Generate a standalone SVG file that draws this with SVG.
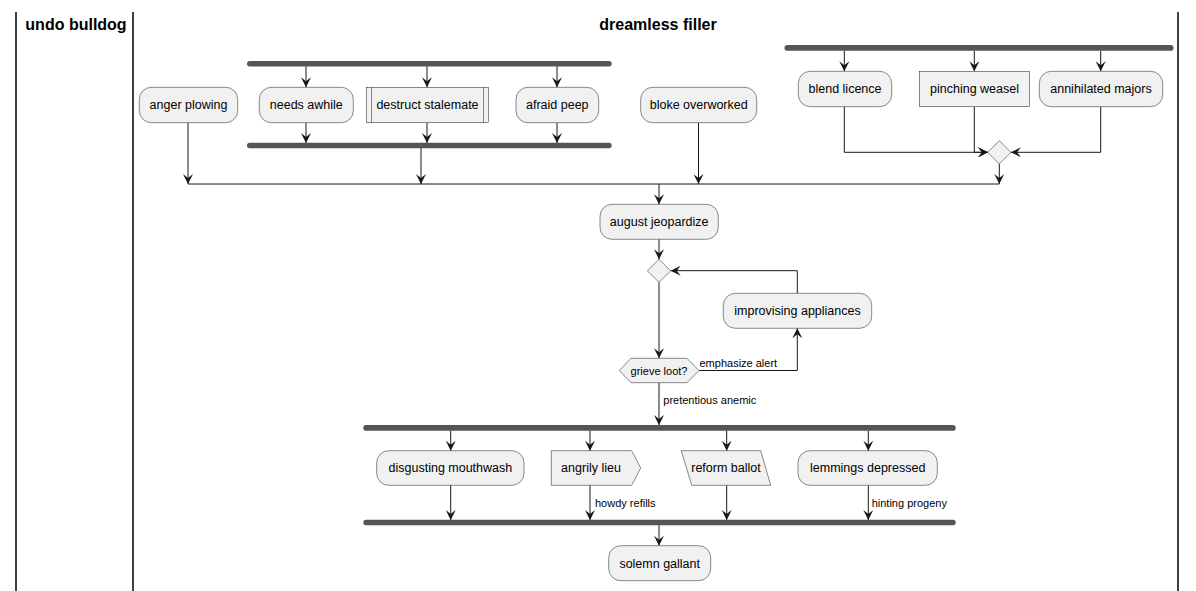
<svg xmlns="http://www.w3.org/2000/svg" width="1196" height="591" viewBox="0 0 1196 591">
<defs>
<style>
.box{fill:#F1F1F1;stroke:#181818;stroke-width:0.5}
.bar{fill:#555555}
.t{font-family:"Liberation Sans",Arial,sans-serif;font-size:12.5px;fill:#000;text-anchor:middle}
.l{font-family:"Liberation Sans",Arial,sans-serif;font-size:11px;fill:#000}
.h{font-family:"Liberation Sans",Arial,sans-serif;font-size:16px;font-weight:bold;fill:#000;text-anchor:middle}
.c{fill:none;stroke:#181818;stroke-width:1}
.a{marker-end:url(#ar)}
.lane{stroke:#000;stroke-width:1.5}
</style>
<marker id="ar" markerUnits="userSpaceOnUse" markerWidth="11" markerHeight="10" refX="10" refY="5" orient="auto" viewBox="0 0 11 10">
<path d="M0,0 L10,5 L0,10 L4,5 Z" fill="#181818"/>
</marker>
</defs>
<g id="lanes">
<line class="lane" x1="16" y1="12" x2="16" y2="591"/>
<line class="lane" x1="133" y1="12" x2="133" y2="591"/>
<line class="lane" x1="1178" y1="12" x2="1178" y2="591"/>
<text class="h" x="76" y="30">undo bulldog</text>
<text class="h" x="658" y="30">dreamless filler</text>
</g>
<g id="connectors">
<path class="c a" d="M306,66 V87.3"/>
<path class="c a" d="M427,66 V87.3"/>
<path class="c a" d="M557,66 V87.3"/>
<path class="c a" d="M306,122.7 V143"/>
<path class="c a" d="M427,122.7 V143"/>
<path class="c a" d="M557,122.7 V143"/>
<path class="c a" d="M844.3,51 V71.3"/>
<path class="c a" d="M974.3,51 V71.3"/>
<path class="c a" d="M1100.7,51 V71.3"/>
<path class="c a" d="M844.3,106.7 V152.3 H988"/>
<path class="c a" d="M974.3,106.7 V152.3 H988"/>
<path class="c a" d="M1100.7,106.7 V152.3 H1011"/>
<path class="c" d="M188,184 H999.3"/>
<path class="c a" d="M999.3,164 V184"/>
<path class="c a" d="M188,122.7 V184"/>
<path class="c a" d="M421,148 V184"/>
<path class="c a" d="M698.5,122.7 V184"/>
<path class="c a" d="M659,184 V204.3"/>
<path class="c a" d="M659,239.3 V259.3"/>
<path class="c a" d="M659,282.3 V358.3"/>
<path class="c a" d="M699,370.5 H797.3 V328.3"/>
<path class="c a" d="M797.3,293.3 V270.7 H670.7"/>
<path class="c a" d="M659,382.7 V425"/>
<path class="c a" d="M450.7,430.7 V450.7"/>
<path class="c a" d="M590,430.7 V450.7"/>
<path class="c a" d="M726.7,430.7 V450.7"/>
<path class="c a" d="M868.3,430.7 V450.7"/>
<path class="c a" d="M450.7,485.3 V520"/>
<path class="c a" d="M590,485.3 V520"/>
<path class="c a" d="M726.7,485.3 V520"/>
<path class="c a" d="M868.3,485.3 V520"/>
<path class="c a" d="M659,525 V545.7"/>
<text class="l" x="699.5" y="367.3">emphasize alert</text>
<text class="l" x="663.3" y="404.3">pretentious anemic</text>
<text class="l" x="595" y="506.7">howdy refills</text>
<text class="l" x="871.7" y="506.7">hinting progeny</text>
</g>
<g id="fork1"><rect class="bar" x="247" y="61" width="364.7" height="5.5" rx="2.7"/></g>
<g id="join1"><rect class="bar" x="247" y="142.7" width="364.7" height="5.5" rx="2.7"/></g>
<g id="fork2"><rect class="bar" x="784.5" y="45" width="389" height="5.8" rx="2.9"/></g>
<g id="fork3"><rect class="bar" x="363.3" y="425" width="592.4" height="5.7" rx="2.8"/></g>
<g id="join3"><rect class="bar" x="363.3" y="519.8" width="592.4" height="5.5" rx="2.7"/></g>
<g id="anger-plowing"><rect class="box" x="139.3" y="87.3" width="98.4" height="35.4" rx="12"/><text class="t" x="188.5" y="109.3">anger plowing</text></g>
<g id="needs-awhile"><rect class="box" x="259.3" y="87.3" width="94" height="35.4" rx="12"/><text class="t" x="306.3" y="109.3">needs awhile</text></g>
<g id="destruct-stalemate"><rect class="box" x="366.7" y="87.3" width="121.6" height="35.4"/><line class="box" x1="371.5" y1="87.3" x2="371.5" y2="122.7"/><line class="box" x1="483.5" y1="87.3" x2="483.5" y2="122.7"/><text class="t" x="427.5" y="109.3">destruct stalemate</text></g>
<g id="afraid-peep"><rect class="box" x="516" y="87.3" width="82.7" height="35.4" rx="12"/><text class="t" x="557.3" y="109.3">afraid peep</text></g>
<g id="bloke-overworked"><rect class="box" x="640.7" y="87.3" width="116" height="35.4" rx="12"/><text class="t" x="698.7" y="109.3">bloke overworked</text></g>
<g id="blend-licence"><rect class="box" x="798.3" y="71.3" width="93.4" height="35.4" rx="12"/><text class="t" x="845" y="93.3">blend licence</text></g>
<g id="pinching-weasel"><rect class="box" x="919.3" y="71.3" width="110.4" height="35.4"/><text class="t" x="974.5" y="93.3">pinching weasel</text></g>
<g id="annihilated-majors"><rect class="box" x="1039.3" y="71.3" width="123.4" height="35.4" rx="12"/><text class="t" x="1101" y="93.3">annihilated majors</text></g>
<g id="merge1"><polygon class="box" points="999.3,140.7 1011,152.3 999.3,164 987.6,152.3"/></g>
<g id="august-jeopardize"><rect class="box" x="600" y="204.3" width="118.3" height="35" rx="12"/><text class="t" x="659.2" y="226.1">august jeopardize</text></g>
<g id="loop-merge"><polygon class="box" points="659,259.3 670.7,270.8 659,282.3 647.3,270.8"/></g>
<g id="improvising-appliances"><rect class="box" x="723.3" y="293.3" width="148.4" height="35" rx="12"/><text class="t" x="797.5" y="315.1">improvising appliances</text></g>
<g id="grieve-loot"><polygon class="box" points="619.3,370.5 631,358.3 687,358.3 699,370.5 687,382.7 631,382.7"/><text class="t" x="659" y="374.5" style="font-size:11px">grieve loot?</text></g>
<g id="disgusting-mouthwash"><rect class="box" x="376.7" y="450.7" width="147.3" height="34.6" rx="12"/><text class="t" x="450.4" y="472.3">disgusting mouthwash</text></g>
<g id="angrily-lieu"><polygon class="box" points="551.3,450.7 631.7,450.7 640.7,468 631.7,485.3 551.3,485.3"/><text class="t" x="591" y="472.3">angrily lieu</text></g>
<g id="reform-ballot"><polygon class="box" points="681.3,450.7 760.7,450.7 770.7,485.3 691.7,485.3"/><text class="t" x="726" y="472.3">reform ballot</text></g>
<g id="lemmings-depressed"><rect class="box" x="798" y="450.7" width="139.3" height="34.6" rx="12"/><text class="t" x="867.7" y="472.3">lemmings depressed</text></g>
<g id="solemn-gallant"><rect class="box" x="608.7" y="545.7" width="102" height="35" rx="12"/><text class="t" x="659.7" y="567.5">solemn gallant</text></g>
</svg>
